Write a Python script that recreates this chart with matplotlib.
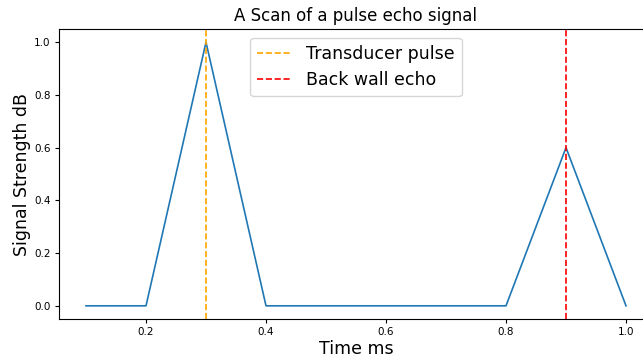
import matplotlib.pyplot as plt
import numpy as np

# Zeitachse und Signalstärke
time_ms = [0.1, 0.2, 0.3, 0.4, 0.5, 0.6, 0.7, 0.8, 0.9, 1.0]
signal_db = [0, 0, 1.0, 0, 0, 0, 0, 0, 0.6, 0]

pulse_t = 0.3
echo_t = 0.9

fig = plt.figure(figsize=(6.43, 3.58), dpi=100)
ax = fig.add_axes([59/643, 1 - 319/358, (653 - 59)/643, (319 - 29)/358])

ax.plot(time_ms, signal_db, linewidth=1.2)
ax.axvline(pulse_t, color='orange', linestyle='--', linewidth=1.2, label='Transducer pulse')
ax.axvline(echo_t, color='red', linestyle='--', linewidth=1.2, label='Back wall echo')

ax.set_title('A Scan of a pulse echo signal', fontsize=12)
ax.set_xlabel('Time ms', fontsize=12.5, labelpad=2)
ax.set_ylabel('Signal Strength dB', fontsize=12.5, labelpad=2)
ax.tick_params(labelsize=7.5, length=3, pad=3)
ax.legend(loc='upper center', fontsize=12.5)

plt.savefig('out.png', dpi=100)
